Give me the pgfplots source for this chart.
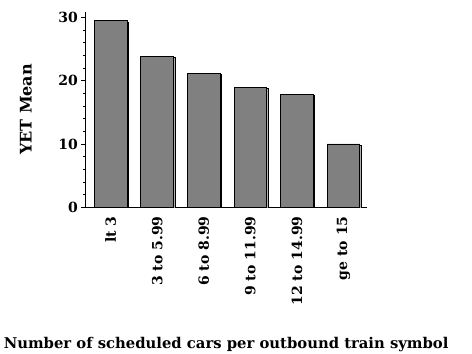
\documentclass[border=0pt]{standalone}
\usepackage{fontspec}
\setmainfont{DejaVu Serif}
\usepackage{pgfplots}
\pgfplotsset{compat=1.18}
\usetikzlibrary{shadows}
\begin{document}
\begin{tikzpicture}
\begin{axis}[
  at={(85pt,146.7pt)}, anchor=south west,
  scale only axis, width=282.3pt, height=195.6pt,
  xmin=-0.55, xmax=5.51, ymin=0, ymax=30.9,
  axis lines=left, axis line style={-, line width=0.8pt},
  xtick=data,
  xticklabels={lt 3, 3 to 5.99, 6 to 8.99, 9 to 11.99, 12 to 14.99, ge to 15},
  xtick style={draw=none},
  xticklabel style={rotate=90, anchor=east, inner sep=0pt, xshift=-5pt, font=\bfseries\fontsize{14}{14}\selectfont},
  ytick={0,10,20,30},
  minor y tick num=4,
  tick align=outside,
  major tick length=4pt, minor tick length=2.5pt,
  ytick style={line width=0.8pt, black},
  minor tick style={line width=0.8pt, black},
  yticklabel style={font=\bfseries\fontsize{14}{14}\selectfont, inner sep=0pt, xshift=-3pt},
  /pgf/number format/assume math mode=true,
  xlabel={Number of scheduled cars per outbound train symbol},
  xlabel style={at={(axis description cs:0.5,-0.72)}, anchor=base, inner sep=0pt, font=\bfseries\fontsize{14.8}{14.8}\selectfont},
  ylabel={YET Mean},
  ylabel style={at={(axis description cs:-0.209,0.5)}, anchor=center, rotate=0, font=\bfseries\fontsize{16}{16}\selectfont},
  ybar, bar width=32.7pt,
]
\addplot[fill=black!50, draw=black, line width=0.8pt,
  drop shadow={shadow xshift=1.5pt, shadow yshift=-1.5pt, fill=black!30, opacity=1}]
  coordinates {(0,29.47) (1,23.9) (2,21.16) (3,18.95) (4,17.85) (5,10.0)};
\end{axis}
\pgfresetboundingbox
\useasboundingbox (0,0) rectangle (472pt,354pt);
\end{tikzpicture}
\end{document}
